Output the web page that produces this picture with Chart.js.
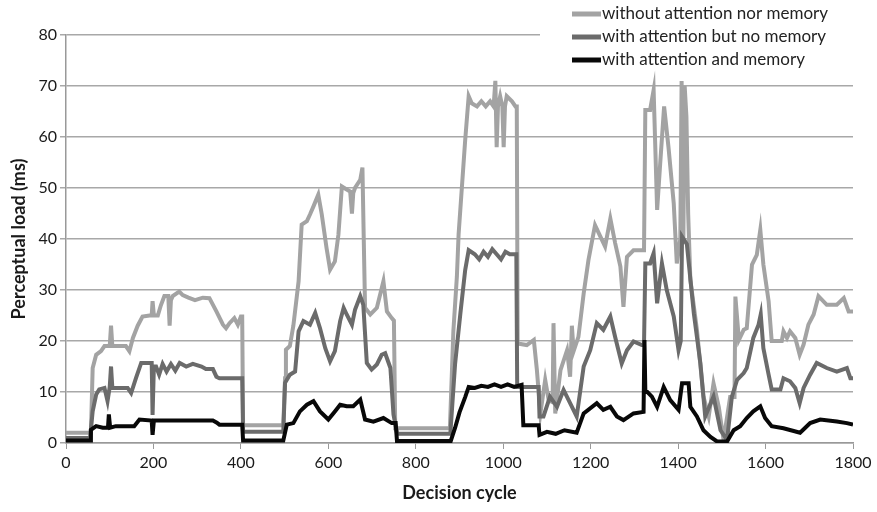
<!DOCTYPE html>
<html>
<head>
<meta charset="utf-8">
<script src="https://cdn.jsdelivr.net/npm/chart.js@4.4.0/dist/chart.umd.min.js"></script>
<style>
  body { margin: 0; background: #fff; }
  #wrap { width: 877px; height: 512px; }
</style>
</head>
<body>
<div id="wrap"><canvas id="myChart" width="877" height="512"></canvas></div>
<script>
// series names (legend order)
const seriesNames = ['without attention nor memory', 'with attention but no memory', 'with attention and memory'];

// x axis ticks
const xTicks = [0, 200, 400, 600, 800, 1000, 1200, 1400, 1600, 1800];
const yTicks = [0, 10, 20, 30, 40, 50, 60, 70, 80];

// without attention nor memory
const lightX = [0, 50, 57, 61, 69, 80, 88, 100, 103, 106, 137, 145, 153, 164, 175, 191, 196, 198, 201, 210, 217, 225, 234, 237, 240, 244, 259, 267, 280, 295, 313, 328, 344, 359, 366, 374, 385, 393, 400, 403, 405, 497, 501, 503, 512, 520, 532, 539, 551, 558, 566, 577, 585, 596, 604, 615, 623, 631, 642, 650, 654, 657, 661, 673, 678, 681, 684, 696, 711, 726, 734, 745, 750, 753, 878, 886, 894, 898, 905, 913, 921, 928, 940, 950, 960, 970, 978, 982, 985, 988, 993, 998, 1001, 1004, 1008, 1020, 1028, 1031, 1033, 1054, 1070, 1077, 1085, 1096, 1104, 1113, 1115, 1119, 1131, 1146, 1153, 1157, 1161, 1172, 1184, 1195, 1210, 1222, 1233, 1245, 1256, 1268, 1275, 1283, 1298, 1317, 1322, 1325, 1336, 1344, 1352, 1359, 1368, 1378, 1390, 1397, 1405, 1408, 1412, 1415, 1419, 1423, 1428, 1443, 1458, 1470, 1481, 1493, 1504, 1519, 1529, 1531, 1539, 1550, 1557, 1569, 1580, 1588, 1595, 1607, 1614, 1637, 1641, 1649, 1656, 1668, 1678, 1687, 1698, 1710, 1721, 1740, 1763, 1779, 1790, 1800];
const lightY = [2, 2, 2, 14.7, 17.3, 18, 19, 19, 23, 19, 19, 18, 20.6, 23, 24.8, 25, 25, 27.8, 25, 25, 27, 28.8, 28.8, 23, 28, 28.8, 29.7, 29, 28.5, 28, 28.5, 28.4, 25.8, 23.2, 22.5, 23.5, 24.5, 23.2, 24.8, 24.8, 3.5, 3.5, 12.7, 18.3, 19, 23, 31.7, 42.8, 43.5, 44.8, 46.4, 48.7, 44.8, 38.2, 34, 35.6, 40.8, 50.3, 49.7, 49.3, 45, 49, 50, 51.6, 54, 40, 26.5, 25.2, 26.5, 31.7, 25.8, 24.5, 24, 2.9, 2.9, 22, 32.6, 41, 49.6, 59.4, 68, 66.6, 66, 67, 66, 67, 66, 71, 58, 66, 68, 66, 58, 66, 68, 67, 66, 66, 19.5, 19.2, 20.2, 14.3, 5.8, 12.4, 8.4, 8, 23.5, 5.8, 14.3, 18.2, 13, 23, 18, 20.8, 29.3, 35.9, 42.7, 40.5, 38.5, 44, 39.2, 34.6, 26.7, 36.5, 37.8, 37.8, 37.8, 65.3, 65.3, 69.2, 45.7, 54.8, 66, 58, 47, 35.2, 40, 71, 40, 70, 64, 45, 32, 22.2, 9.1, 5.2, 11.7, 7.1, 0.6, 9, 9, 28.7, 20.2, 22.2, 22.5, 35, 36.9, 41.8, 35, 27.8, 20, 20, 21.9, 20.6, 21.9, 20.6, 17.3, 19.3, 23.2, 25.2, 28.8, 27.1, 27.1, 28.4, 25.8, 25.8];

// with attention but no memory
const midX = [0, 55, 57, 61, 69, 76, 88, 95, 100, 103, 106, 141, 149, 160, 172, 187, 196, 198, 201, 206, 213, 221, 230, 240, 250, 260, 275, 290, 310, 320, 336, 344, 351, 400, 403, 405, 497, 501, 512, 524, 532, 543, 558, 570, 581, 593, 604, 615, 627, 635, 642, 654, 661, 673, 680, 688, 699, 711, 722, 730, 742, 749, 757, 760, 879, 890, 902, 913, 921, 935, 945, 955, 965, 975, 985, 995, 1005, 1015, 1028, 1030, 1032, 1081, 1083, 1092, 1107, 1123, 1138, 1153, 1168, 1184, 1199, 1214, 1229, 1245, 1256, 1271, 1283, 1298, 1317, 1322, 1325, 1336, 1344, 1352, 1363, 1374, 1390, 1401, 1406, 1409, 1420, 1436, 1451, 1462, 1481, 1497, 1512, 1523, 1535, 1550, 1557, 1572, 1584, 1589, 1595, 1607, 1614, 1634, 1641, 1656, 1668, 1678, 1687, 1702, 1717, 1740, 1763, 1786, 1794, 1800];
const midY = [1, 1, 1, 6.2, 9.5, 10.5, 10.8, 8.2, 11, 15, 10.8, 10.8, 9.8, 12.7, 15.7, 15.7, 15.7, 5.5, 15, 15, 13.4, 15.5, 14, 15.5, 14.2, 15.7, 15, 15.5, 15, 14.5, 14.5, 13, 12.7, 12.7, 12.7, 2.2, 2.2, 11.8, 13.4, 14, 21.9, 23.9, 23.2, 25.5, 22.5, 18.6, 16, 18, 23.9, 26.5, 25.2, 23.2, 26.1, 28.8, 27.1, 15.7, 14.4, 15.4, 17.3, 17.6, 14.7, 5.6, 2, 1.8, 1.8, 15.6, 25.4, 33.9, 37.8, 37, 36, 37.5, 36.5, 38, 37, 36, 37.5, 37, 37, 37, 11, 11, 5.2, 5.2, 9.1, 7.1, 10.4, 7.8, 5.2, 15, 18.2, 23.5, 22.2, 24.8, 20.8, 15.6, 18.2, 19.9, 19.2, 19.2, 35.2, 35.2, 37.2, 27.4, 35.2, 30, 24.8, 18.2, 20, 40.5, 39, 25.4, 15.6, 5.2, 9.1, 2.5, 0.6, 9.1, 12.4, 13.7, 14.7, 20.6, 23.2, 25.2, 18.6, 13.4, 10.5, 10.5, 12.7, 12.1, 10.8, 7.8, 10.8, 13.4, 15.7, 14.7, 14, 14.7, 12.7, 12.7];

// with attention and memory
const darkX = [0, 55, 57, 69, 84, 96, 98, 101, 114, 156, 168, 196, 198, 201, 206, 336, 345, 351, 400, 403, 405, 497, 505, 520, 535, 551, 566, 581, 600, 615, 627, 642, 657, 673, 684, 703, 726, 745, 754, 757, 880, 890, 900, 913, 921, 935, 950, 965, 980, 995, 1010, 1025, 1042, 1046, 1081, 1083, 1100, 1120, 1140, 1168, 1184, 1214, 1229, 1245, 1260, 1275, 1298, 1321, 1323, 1325, 1340, 1352, 1367, 1382, 1401, 1409, 1424, 1428, 1443, 1458, 1474, 1489, 1512, 1527, 1542, 1557, 1572, 1588, 1599, 1614, 1641, 1679, 1702, 1725, 1763, 1786, 1800];
const darkY = [0.5, 0.5, 2.6, 3.3, 3, 3, 5.6, 3, 3.3, 3.3, 4.6, 4.4, 1.6, 4.4, 4.4, 4.4, 4, 3.6, 3.6, 3.6, 0.5, 0.5, 3.6, 3.9, 6.2, 7.5, 8.2, 6.2, 4.6, 6.2, 7.5, 7.2, 7.2, 8.5, 4.6, 4.2, 4.9, 3.9, 3.9, 0.4, 0.4, 3, 6, 9, 11, 10.8, 11.2, 11, 11.5, 11, 11.5, 11, 11.4, 3.5, 3.5, 1.6, 2.2, 1.8, 2.5, 2, 5.8, 7.8, 6.5, 7.1, 5.2, 4.5, 5.8, 6.1, 20.2, 10.4, 9.1, 7.1, 11, 8.4, 6.5, 11.7, 11.7, 7.1, 5.2, 2.5, 1.2, 0.3, 0.3, 2.5, 3.3, 4.9, 6.2, 7.2, 4.9, 3.3, 2.9, 2, 3.9, 4.6, 4.2, 3.9, 3.6];

const colors = ['#a3a3a3', '#6b6b6b', '#080808'];
const FONT = 'Lato, "Open Sans", sans-serif';

function toPoints(xs, ys) {
    return xs.map((x, i) => ({ x: x, y: ys[i] }));
}

// legend drawn by hand, top right, over the 80 gridline
const legendPlugin = {
    id: 'cornerLegend',
    afterDraw(chart) {
        const ctx = chart.ctx;
        ctx.save();
        ctx.fillStyle = '#fff';
        ctx.fillRect(540, 0, 337, 70);
        ctx.font = '17px ' + FONT;
        ctx.textBaseline = 'middle';
        seriesNames.forEach((name, i) => {
            const y = 14 + i * 23;
            ctx.strokeStyle = colors[i];
            ctx.lineWidth = 5;
            ctx.beginPath();
            ctx.moveTo(572, y);
            ctx.lineTo(601, y);
            ctx.stroke();
            ctx.fillStyle = '#222';
            ctx.fillText(name, 602, y);
        });
        ctx.restore();
    }
};

let ctx = document.getElementById('myChart').getContext('2d');
new Chart(ctx, {
    type: 'line',
    data: {
        datasets: [
            { label: seriesNames[0], data: toPoints(lightX, lightY), borderColor: colors[0], order: 3 },
            { label: seriesNames[1], data: toPoints(midX, midY), borderColor: colors[1], order: 2 },
            { label: seriesNames[2], data: toPoints(darkX, darkY), borderColor: colors[2], order: 1 }
        ].map(d => Object.assign(d, { borderWidth: 4, pointRadius: 0, tension: 0, fill: false, borderJoinStyle: 'miter' }))
    },
    options: {
        responsive: false,
        animation: false,
        devicePixelRatio: 1,
        layout: { padding: { top: 35, right: 24, left: 0, bottom: 0 } },
        plugins: { legend: { display: false }, tooltip: { enabled: false } },
        scales: {
            x: {
                type: 'linear',
                min: 0, max: 1800,
                afterBuildTicks: s => { s.ticks = xTicks.map(v => ({ value: v })); },
                afterFit: s => { s.height = 69; },
                grid: { drawOnChartArea: false, drawTicks: true, tickLength: 6, color: '#999', lineWidth: 1 },
                border: { color: '#999', width: 1.5 },
                ticks: { color: '#1a1a1a', font: { family: FONT, size: 16 }, padding: 4, maxRotation: 0, callback: v => String(v) },
                title: { display: true, text: 'Decision cycle', color: '#1a1a1a', font: { family: FONT, size: 18, weight: 'bold' }, padding: { top: 0, bottom: 8 } }
            },
            y: {
                min: 0, max: 80,
                afterBuildTicks: s => { s.ticks = yTicks.map(v => ({ value: v })); },
                afterFit: s => { s.width = 66; },
                grid: { color: '#a8a8a8', lineWidth: 1.5, tickLength: 6 },
                border: { color: '#999', width: 1.5 },
                ticks: { color: '#1a1a1a', font: { family: FONT, size: 16 }, padding: 3, callback: v => String(v) },
                title: { display: true, text: 'Perceptual load (ms)', color: '#1a1a1a', font: { family: FONT, size: 18, weight: 'bold' }, padding: { top: 8, bottom: 0 } }
            }
        }
    },
    plugins: [legendPlugin]
});
</script>
</body>
</html>
